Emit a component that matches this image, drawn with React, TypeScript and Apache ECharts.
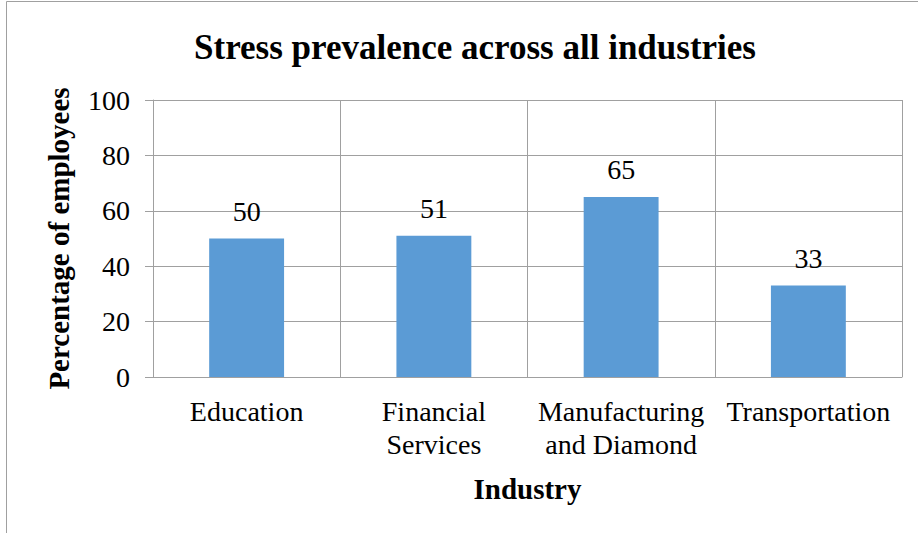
import React, { useEffect, useRef } from "react";
import * as echarts from "echarts";

const categories = ["Education", "Financial\nServices", "Manufacturing\nand Diamond", "Transportation"];
const values = [50, 51, 65, 33];
const yTicks = { min: 0, max: 100, interval: 20 };
const titleText = "Stress prevalence across all industries";
const xName = "Industry";
const yName = "Percentage of employees";

const FONT = "Liberation Serif";
const GRID = "#A0A0A0";

export default function App() {
  const ref = useRef<HTMLDivElement>(null);
  useEffect(() => {
    if (!ref.current) return;
    const chart = echarts.init(ref.current, null, { renderer: "svg" });
    chart.setOption({
      animation: false,
      backgroundColor: "#ffffff",
      textStyle: { fontFamily: FONT, color: "#000" },
      title: {
        text: titleText,
        left: 470,
        top: 25,
        textAlign: "center",
        textStyle: { fontFamily: FONT, fontSize: 35, fontWeight: "bold", color: "#000" },
      },
      graphic: [
        {
          type: "rect",
          shape: { x: 6.5, y: 1.5, width: 1000, height: 1000 },
          style: { fill: "none", stroke: GRID, lineWidth: 1 },
          silent: true,
        },
      ],
      grid: { left: 153, right: 16, top: 100, bottom: 156, containLabel: false },
      xAxis: {
        type: "category",
        data: categories,
        name: xName,
        nameLocation: "middle",
        nameGap: 97,
        nameTextStyle: { fontFamily: FONT, fontSize: 29, fontWeight: "bold", color: "#000" },
        axisLine: { show: true, lineStyle: { color: GRID, width: 1 } },
        axisTick: { show: false },
        splitLine: { show: true, lineStyle: { color: GRID, width: 1 } },
        axisLabel: {
          interval: 0,
          margin: 18,
          fontFamily: FONT,
          fontSize: 28,
          lineHeight: 33,
          color: "#000",
          align: "center",
        },
      },
      yAxis: {
        type: "value",
        min: yTicks.min,
        max: yTicks.max,
        interval: yTicks.interval,
        name: yName,
        nameLocation: "middle",
        nameGap: 80,
        nameRotate: 90,
        nameTextStyle: { fontFamily: FONT, fontSize: 29, fontWeight: "bold", color: "#000" },
        axisLine: { show: true, lineStyle: { color: GRID, width: 1 } },
        axisTick: { show: true, inside: false, length: 8, lineStyle: { color: GRID } },
        splitLine: { show: true, lineStyle: { color: GRID, width: 1 } },
        axisLabel: { margin: 23, fontFamily: FONT, fontSize: 28, color: "#000" },
      },
      series: [
        {
          type: "bar",
          data: values,
          barWidth: "40%",
          itemStyle: { color: "#5B9BD5" },
          label: {
            show: true,
            position: "top",
            distance: 13,
            fontFamily: FONT,
            fontSize: 28,
            color: "#000",
          },
        },
      ],
    });
    return () => chart.dispose();
  }, []);
  return (
    <div
      ref={ref}
      style={{ position: "fixed", left: 0, top: 0, width: 918, height: 533 }}
    />
  );
}
